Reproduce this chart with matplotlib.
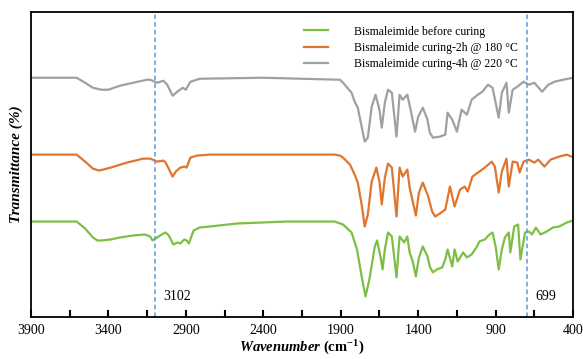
import matplotlib
matplotlib.use("Agg")
import matplotlib.pyplot as plt

plt.rcParams['font.family'] = ['Liberation Serif', 'DejaVu Serif']
plt.rcParams['mathtext.fontset'] = 'custom'
plt.rcParams['mathtext.rm'] = 'Liberation Serif'
plt.rcParams['mathtext.bf'] = 'Liberation Serif:bold'
plt.rcParams['mathtext.it'] = 'Liberation Serif:italic'
plt.rcParams['mathtext.bfit'] = 'Liberation Serif:bold:italic'

# spectra (wavenumber, transmittance in arbitrary units)
wn_green = [3900, 3750, 3605, 3550, 3500, 3470, 3445, 3385, 3325, 3240, 3165, 3130, 3115, 3085,
            3045, 3030, 3010, 2980, 2955, 2935, 2910, 2895, 2880, 2850, 2810, 2745, 2570, 2245,
            1940, 1885, 1830, 1795, 1765, 1740, 1715, 1680, 1665, 1640, 1630, 1615, 1595, 1570,
            1540, 1520, 1490, 1470, 1455, 1435, 1415, 1395, 1370, 1340, 1325, 1305, 1280, 1245,
            1225, 1210, 1180, 1165, 1145, 1110, 1085, 1055, 1020, 1005, 970, 940, 920, 900, 880,
            860, 840, 815, 805, 780, 755, 740, 710, 685, 665, 640, 610, 570, 530, 490, 440, 400]
t_green = [96, 96, 96, 89, 80, 77, 77, 78, 80, 82, 83, 81, 77, 80,
           84, 85, 82, 73, 75, 74, 78, 77, 74, 87, 90, 91, 94, 96,
           96, 93, 85, 68, 41, 21, 38, 71, 77, 58, 48, 68, 85, 81,
           40, 81, 75, 81, 65, 56, 41, 60, 71, 61, 51, 45, 48, 50,
           58, 68, 51, 68, 56, 65, 60, 63, 71, 76, 78, 83, 85, 71, 48,
           68, 80, 85, 65, 91, 93, 58, 85, 86, 83, 90, 83, 86, 90, 91, 95, 97]

wn_orange = [3900, 3605, 3550, 3500, 3460, 3385, 3280, 3175, 3130, 3085, 3045, 3030, 2985, 2965,
             2935, 2910, 2895, 2870, 2830, 2745, 2245, 1940, 1905, 1885, 1840, 1810, 1790, 1765,
             1745, 1725, 1700, 1670, 1650, 1635, 1615, 1595, 1570, 1540, 1520, 1500, 1470, 1455,
             1435, 1415, 1395, 1370, 1335, 1310, 1290, 1260, 1225, 1195, 1165, 1130, 1100, 1080,
             1050, 1005, 970, 925, 905, 880, 860, 830, 815, 790, 760, 745, 720, 685, 650, 625,
             585, 545, 490, 440, 410, 400]
t_orange = [163, 163, 156, 149, 147, 150, 155, 159, 159, 156, 157, 155, 141, 146,
            150, 151, 150, 160, 162, 163, 163, 163, 162, 160, 153, 143, 135, 113,
            91, 103, 136, 150, 136, 113, 140, 154, 150, 101, 150, 141, 148, 130,
            116, 102, 125, 135, 121, 106, 101, 104, 108, 131, 111, 128, 131, 126,
            141, 146, 150, 156, 151, 125, 146, 159, 131, 156, 155, 145, 156, 158, 155, 158,
            151, 158, 161, 163, 161, 161]

wn_gray = [3900, 3605, 3550, 3500, 3445, 3400, 3325, 3240, 3150, 3130, 3085, 3045, 3020, 2985,
           2955, 2920, 2900, 2870, 2810, 2400, 1905, 1885, 1830, 1810, 1790, 1765, 1745, 1725,
           1700, 1675, 1650, 1635, 1615, 1595, 1570, 1540, 1520, 1500, 1470, 1445, 1420, 1400,
           1370, 1340, 1325, 1305, 1260, 1225, 1210, 1180, 1150, 1120, 1085, 1055, 1015, 985,
           950, 920, 880, 860, 830, 815, 790, 760, 720, 685, 650, 600, 560, 520, 465, 400]
t_gray = [240, 240, 235, 230, 228, 228, 232, 235, 238, 238, 235, 237, 233, 222,
          226, 230, 228, 236, 239, 240, 238, 235, 225, 216, 210, 191, 176, 180,
          211, 223, 208, 190, 215, 228, 225, 181, 223, 218, 223, 205, 186, 201,
          210, 198, 185, 180, 181, 183, 205, 198, 186, 208, 203, 218, 223, 226,
          233, 230, 200, 225, 235, 205, 228, 231, 236, 233, 235, 226, 233, 236, 238, 240]

labels = ['Bismaleimide before curing',
          'Bismaleimide curing-2h @ 180 \u00b0C',
          'Bismaleimide curing-4h @ 220 \u00b0C']
marked_peaks = [3102, 699]
major_ticks = [3900, 3400, 2900, 2400, 1900, 1400, 900, 400]
minor_ticks = [3650, 3150, 2650, 2150, 1650, 1150, 650]

fig = plt.figure(figsize=(5.83, 3.59), dpi=100)
ax = fig.add_axes([0.053, 0.116, 0.93, 0.851])

ax.plot(wn_green, t_green, color='#7dbf45', lw=1.6, label=labels[0])
ax.plot(wn_orange, t_orange, color='#e07530', lw=1.6, label=labels[1])
ax.plot(wn_gray, t_gray, color='#a0a0a0', lw=1.6, label=labels[2])

for p in marked_peaks:
    ax.axvline(p, color='#5b9bd5', lw=1.1, ls=(0, (3, 2)))
    ax.annotate(str(p), xy=(p, 21), xytext=(6, 0), textcoords='offset points',
                va='center', ha='left', fontsize=10)

ax.set_xlim(3900, 400)
ax.set_ylim(0, 306)
ax.set_xticks(major_ticks)
ax.set_xticks(minor_ticks, minor=True)
ax.tick_params(axis='x', which='both', direction='in', length=5, width=1.5,
               labelsize=10, pad=5)
ax.set_yticks([])
for s in ax.spines.values():
    s.set_linewidth(1.3)

ax.set_xlabel(r'$\mathbfit{Wavenumber}$ $\mathbf{(cm^{-1})}$', fontsize=10.5, labelpad=1)
ax.set_ylabel('Transmittance (%)', fontsize=11, fontweight='bold', fontstyle='italic',
              labelpad=6)

ax.legend(loc='upper left', bbox_to_anchor=(0.485, 0.99), frameon=False, fontsize=8.5,
          handlelength=2.0, handletextpad=2.2, labelspacing=0.35)

fig.savefig('out.png', dpi=100)
